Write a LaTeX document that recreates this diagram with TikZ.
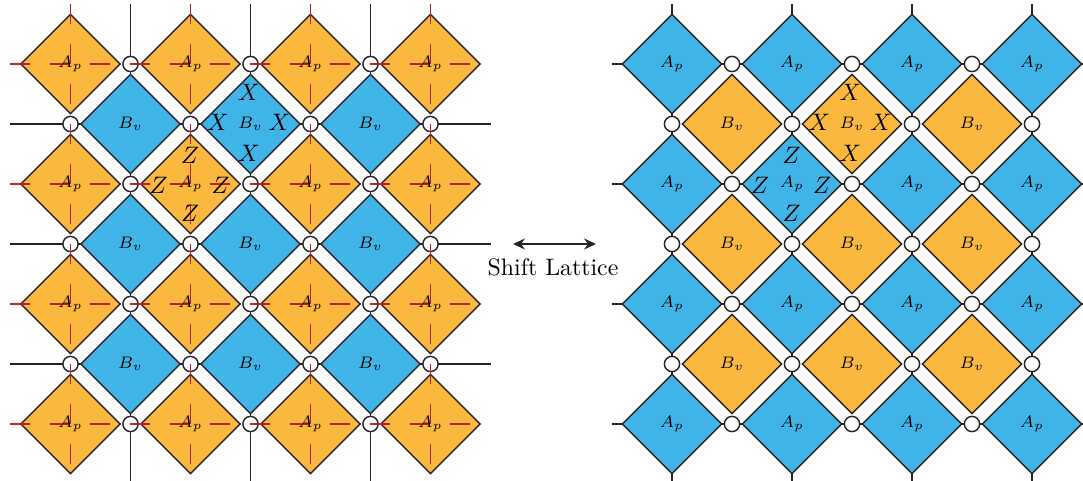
\documentclass[tikz,border=0pt]{standalone}
\usepackage{xcolor}
\usepackage{tikz}
\usetikzlibrary{arrows.meta,shapes.geometric}
\definecolor{plaqorange}{RGB}{251,184,62}
\definecolor{plaqblue}{RGB}{64,180,230}
\definecolor{dualred}{RGB}{200,30,40}
\tikzset{
  plaq/.style={diamond, draw=black!85, line width=0.6pt, minimum width=42pt, minimum height=42pt,
    inner sep=0pt, font=\scriptsize},
  qubit/.style={circle, draw=black!85, fill=white, line width=0.6pt, minimum size=6.4pt, inner sep=0pt},
  primal/.style={draw=black!85, line width=0.6pt},
  dual/.style={draw=dualred, line width=0.6pt, dash pattern=on 8.4pt off 8.4pt},
  pauli/.style={inner sep=0pt, font=\normalsize},
  shiftarr/.style={{Stealth[length=5pt,width=4.6pt]}-{Stealth[length=5pt,width=4.6pt]}, line width=0.6pt, draw=black!85},
}

\begin{document}
\begin{tikzpicture}[x=0.42pt,y=-0.42pt]
\useasboundingbox (0,0) rectangle (1083,481);
\clip (0,0) rectangle (1083,481);

% left: primal lattice (black), under the plaquettes
\foreach \i in {0,1,2} {
  \draw[primal] (130.5+120*\i,4) -- (130.5+120*\i,484);
  \draw[primal] (10,124+120*\i) -- (491,124+120*\i);
}
% right: shifted lattice, lines through the A_p
\foreach \i in {0,...,3} {
  \draw[primal] (672+120*\i,4) -- (672+120*\i,484);
  \draw[primal] (612,64+120*\i) -- (1092,64+120*\i);
}

% plaquettes, stars and qubits (colours swap after the shift)
\foreach \s/\ca/\cb/\n in {0/plaqorange/plaqblue/L, 601.5/plaqblue/plaqorange/R} {
  \begin{scope}[shift={(\s,0)}]
    \foreach \i in {0,...,3} \foreach \j in {0,...,3}
      \node[plaq, fill=\ca] (\n A\i\j) at (70.5+120*\i,64+120*\j) {};
    \foreach \i in {0,1,2} \foreach \j in {0,1,2}
      \node[plaq, fill=\cb] (\n B\i\j) at (130.5+120*\i,124+120*\j) {$B_v$};
    \foreach \i in {0,1,2} \foreach \j in {0,...,3}
      \node[qubit] (\n h\i\j) at (130.5+120*\i,64+120*\j) {};
    \foreach \i in {0,...,3} \foreach \j in {0,1,2}
      \node[qubit] (\n v\i\j) at (70.5+120*\i,124+120*\j) {};
  \end{scope}
}

% left: dual lattice (red dashed), over the plaquettes
\foreach \i in {0,...,3} {
  \draw[dual] (70.5+120*\i,4) -- (70.5+120*\i,484);
  \draw[dual] (10,64+120*\i) -- (489,64+120*\i);
}

% A_p labels on top of the dashes
\foreach \n in {L,R}
  \foreach \i in {0,...,3} \foreach \j in {0,...,3}
    \node[font=\scriptsize, inner sep=0pt] (\n Al\i\j) at (\n A\i\j) {$A_p$};

% X around one B_v, Z around one A_p
\foreach \n in {L,R} {
  \node[pauli] (\n Xn) at ([shift={(-1.5,-32)}]\n B10.center) {$X$};
  \node[pauli] (\n Xw) at ([shift={(-32.5,-1.5)}]\n B10.center) {$X$};
  \node[pauli] (\n Xe) at ([shift={(29,-1.5)}]\n B10.center) {$X$};
  \node[pauli] (\n Xs) at ([shift={(-1.5,29)}]\n B10.center) {$X$};
  \node[pauli] (\n Zn) at ([shift={(-0.5,-29)}]\n A11.center) {$Z$};
  \node[pauli] (\n Zw) at ([shift={(-32,1)}]\n A11.center) {$Z$};
  \node[pauli] (\n Ze) at ([shift={(30,1)}]\n A11.center) {$Z$};
  \node[pauli] (\n Zs) at ([shift={(-0.5,29)}]\n A11.center) {$Z$};
}

\coordinate (shiftL) at (513,244);
\coordinate (shiftR) at (596,244);
\draw[shiftarr] (shiftL) -- (shiftR);
\node (shiftlbl) at (553,267) {Shift Lattice};
\end{tikzpicture}
\end{document}
